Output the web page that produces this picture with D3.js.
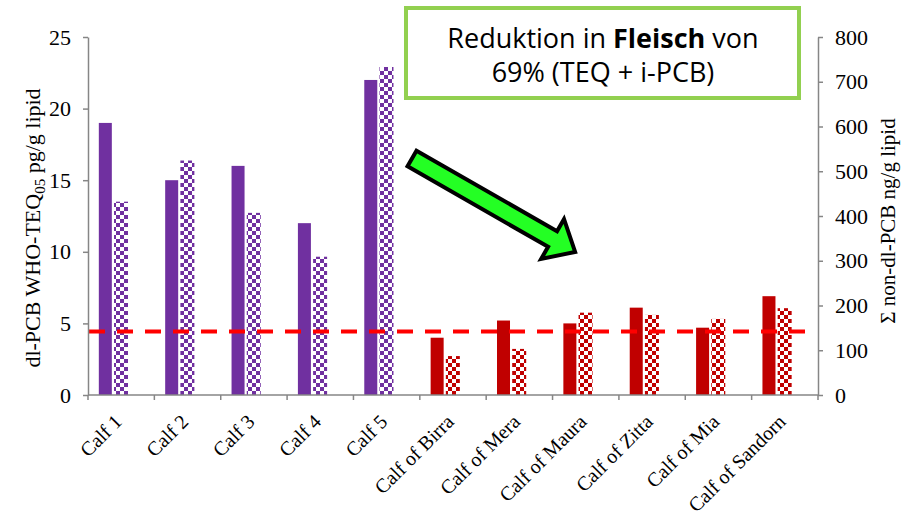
<!DOCTYPE html>
<html><head><meta charset="utf-8">
<script src="https://cdn.jsdelivr.net/npm/d3@7"></script>
<style>body{margin:0;background:#fff}</style>
</head><body>
<svg id="c" width="911" height="515"></svg>
<script>
const categories = ["Calf 1","Calf 2","Calf 3","Calf 4","Calf 5","Calf of Birra","Calf of Mera","Calf of Maura","Calf of Zitta","Calf of Mia","Calf of Sandorn"];
const teqValues = [19, 15, 16, 12, 22, 4, 5.2, 5, 6.1, 4.7, 6.9];
const ndlValues = [432, 524, 407, 309, 733, 87, 103, 184, 179, 170, 194];
const groupOf = ["before","before","before","before","before","after","after","after","after","after","after"];
const leftTicks = [0, 5, 10, 15, 20, 25];
const rightTicks = [0, 100, 200, 300, 400, 500, 600, 700, 800];
const thresholdTEQ = 4.43;
const leftTitle = ["dl-PCB WHO-TEQ", "05", " pg/g lipid"];
const rightTitle = "Σ non-dl-PCB ng/g lipid";
const calloutLine1 = ["Reduktion in ", "Fleisch", " von"];
const calloutLine2 = "69% (TEQ + i-PCB)";

const colors = {before: "#7030A0", after: "#C00000"};
const axisColor = "#868686";
const serif = "'Liberation Serif','Times New Roman',serif";

const svg = d3.select("#c");
const M = {l: 88, r: 818, t: 37, b: 395};

const x = d3.scaleBand().domain(categories).range([M.l, M.r]).padding(0);
const yL = d3.scaleLinear().domain([0, 25]).range([M.b, M.t]);
const yR = d3.scaleLinear().domain([0, 800]).range([M.b, M.t]);
const bw = x.bandwidth();

// checker patterns
const defs = svg.append("defs");
Object.entries(colors).forEach(([k, c]) => {
  const p = defs.append("pattern").attr("id", "chk-" + k)
    .attr("patternUnits", "userSpaceOnUse").attr("width", 8).attr("height", 8)
    .attr("x", 0).attr("y", 3);
  p.append("rect").attr("width", 8).attr("height", 8).attr("fill", "#fff");
  p.append("rect").attr("x", 0).attr("y", 0).attr("width", 4).attr("height", 4).attr("fill", c);
  p.append("rect").attr("x", 4).attr("y", 4).attr("width", 4).attr("height", 4).attr("fill", c);
});

const data = categories.map((c, i) => ({c, teq: teqValues[i], ndl: ndlValues[i], g: groupOf[i]}));

// solid bars (left axis)
svg.append("g").selectAll("rect").data(data).join("rect")
  .attr("x", d => x(d.c) + bw * 0.163)
  .attr("width", bw * 0.196)
  .attr("y", d => yL(d.teq))
  .attr("height", d => yL(0) - yL(d.teq))
  .attr("fill", d => colors[d.g]);

// checkered bars (right axis)
svg.append("g").selectAll("rect").data(data).join("rect")
  .attr("x", d => x(d.c) + bw * 0.392)
  .attr("width", bw * 0.211)
  .attr("y", d => yR(d.ndl))
  .attr("height", d => yR(0) - yR(d.ndl))
  .attr("fill", d => "url(#chk-" + d.g + ")");

// threshold line
svg.append("line")
  .attr("x1", M.l + 1).attr("x2", 805)
  .attr("y1", yL(thresholdTEQ)).attr("y2", yL(thresholdTEQ))
  .attr("stroke", "#FF0000").attr("stroke-width", 4)
  .attr("stroke-dasharray", "16,12");

// left axis
const gL = svg.append("g").attr("transform", `translate(${M.l},0)`)
  .call(d3.axisLeft(yL).tickValues(leftTicks).tickSize(5).tickSizeOuter(0).tickPadding(12));
// right axis
const gR = svg.append("g").attr("transform", `translate(${M.r},0)`)
  .call(d3.axisRight(yR).tickValues(rightTicks).tickSize(5).tickSizeOuter(0).tickPadding(12));
[gL, gR].forEach(g => {
  g.select(".domain").attr("stroke", axisColor).attr("stroke-width", 1.5);
  g.selectAll(".tick line").attr("stroke", axisColor).attr("stroke-width", 1.5);
  g.selectAll(".tick text").attr("font-family", serif).attr("font-size", 22).attr("fill", "#000");
});

// x axis
const bounds = categories.map(c => x(c)).concat([x.range()[1]]);
svg.append("line").attr("x1", M.l).attr("x2", M.r).attr("y1", M.b).attr("y2", M.b)
  .attr("stroke", axisColor).attr("stroke-width", 1.5);
svg.append("g").selectAll("line").data(bounds).join("line")
  .attr("x1", d => d).attr("x2", d => d).attr("y1", M.b).attr("y2", M.b + 5)
  .attr("stroke", axisColor).attr("stroke-width", 1.5);
svg.append("g").selectAll("text").data(categories).join("text")
  .attr("transform", c => `translate(${x(c) + bw / 2 + 2},${M.b + 28}) rotate(-45)`)
  .attr("text-anchor", "end")
  .attr("font-family", serif).attr("font-size", 20).attr("fill", "#000")
  .text(c => c);

// axis titles
const lt = svg.append("text").attr("transform", "translate(40,228) rotate(-90)")
  .attr("text-anchor", "middle").attr("font-family", serif).attr("font-size", 22).attr("fill", "#000");
lt.append("tspan").text(leftTitle[0]);
lt.append("tspan").attr("font-size", 15).attr("dy", 5).text(leftTitle[1]);
lt.append("tspan").attr("dy", -5).text(leftTitle[2]);

svg.append("text").attr("transform", "translate(895,221) rotate(-90)")
  .attr("text-anchor", "middle").attr("font-family", serif).attr("font-size", 21).attr("fill", "#000")
  .text(rightTitle);

// callout box
svg.append("rect").attr("x", 406).attr("y", 8).attr("width", 393).attr("height", 90)
  .attr("fill", "#fff").attr("stroke", "#92D050").attr("stroke-width", 4);
const sans = "'Open Sans','Noto Sans',sans-serif";
const t1 = svg.append("text").attr("x", 603).attr("y", 48).attr("text-anchor", "middle")
  .attr("font-family", sans).attr("font-size", 27).attr("fill", "#000");
t1.append("tspan").text(calloutLine1[0]);
t1.append("tspan").attr("font-weight", "bold").text(calloutLine1[1]);
t1.append("tspan").text(calloutLine1[2]);
svg.append("text").attr("x", 603).attr("y", 82).attr("text-anchor", "middle")
  .attr("font-family", sans).attr("font-size", 27).attr("fill", "#000").text(calloutLine2);

// arrow
svg.append("path")
  .attr("transform", "translate(412,158.5) rotate(29.8)")
  .attr("d", "M0,-9 H162 V-23 L188,0 L162,23 V9 H0 Z")
  .attr("fill", "#24FF24").attr("stroke", "#000").attr("stroke-width", 4)
  .attr("stroke-linejoin", "miter");
</script>
</body></html>
